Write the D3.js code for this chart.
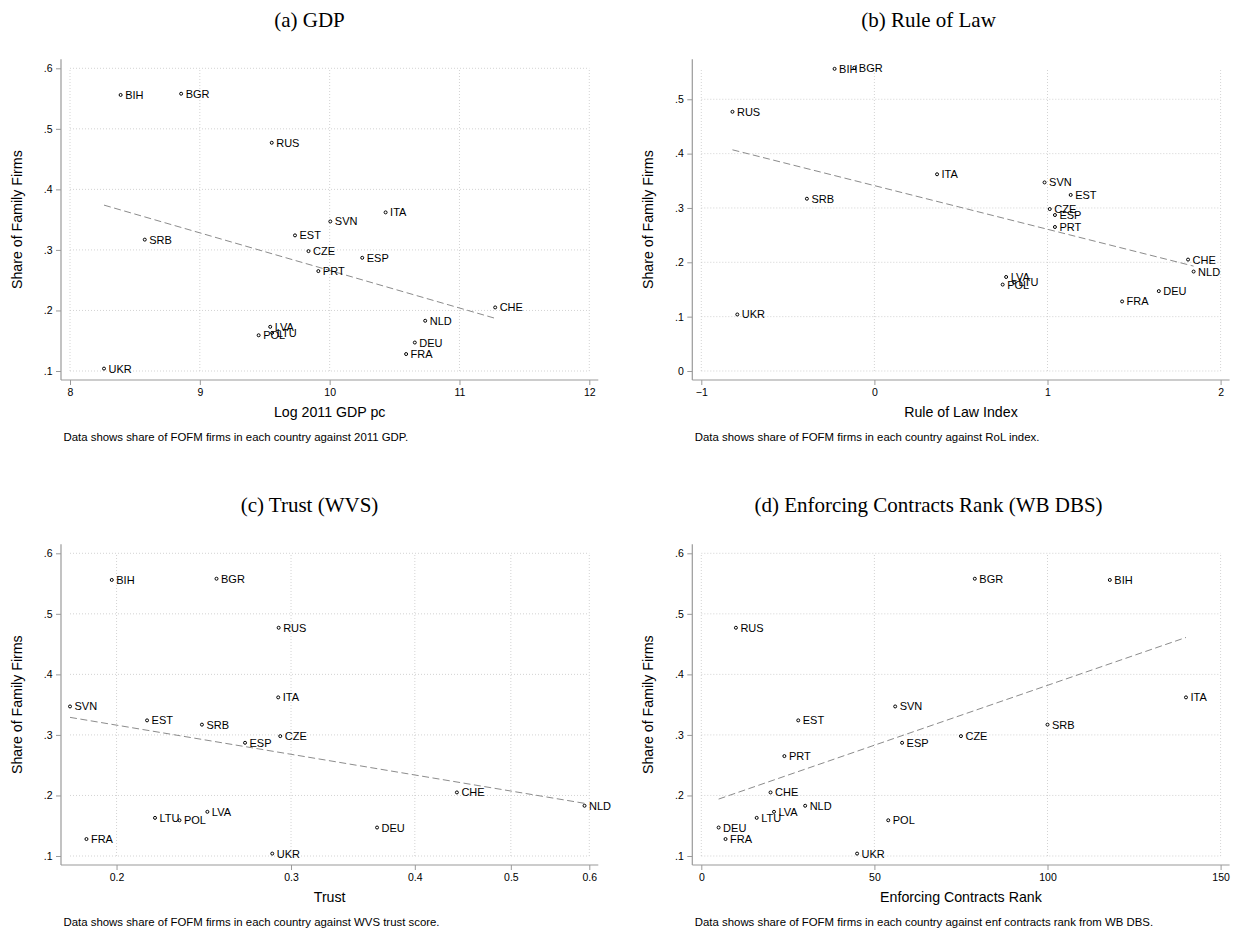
<!DOCTYPE html>
<html><head><meta charset="utf-8">
<script src="https://cdn.jsdelivr.net/npm/d3@7"></script>
<style>body{margin:0;background:#fff}svg{display:block}</style>
</head><body>
<svg id="chart" width="1238" height="935"></svg>
<script>
// ---- data ----
const countries   = ["BIH","BGR","RUS","ITA","SVN","EST","SRB","CZE","ESP","PRT","CHE","NLD","LVA","LTU","POL","DEU","FRA","UKR"];
const familyShare = [0.556,0.558,0.477,0.362,0.347,0.324,0.317,0.298,0.287,0.265,0.205,0.183,0.173,0.163,0.159,0.147,0.128,0.104];
const logGdp      = [8.39,8.856,9.554,10.431,10.005,9.733,8.576,9.837,10.251,9.913,11.275,10.736,9.542,9.557,9.453,10.656,10.589,8.262];
const ruleOfLaw   = [-0.230,-0.116,-0.820,0.362,0.983,1.134,-0.390,1.013,1.043,1.043,1.812,1.844,0.761,0.807,0.741,1.643,1.431,-0.792];
const trust       = [0.1978,0.2523,0.2915,0.2912,0.1795,0.2147,0.2439,0.2926,0.2696,null,0.4411,0.5934,0.2470,0.2187,0.2315,0.3664,0.1865,0.2872];
const enfRank     = [118,79,10,140,56,28,100,75,58,24,20,30,21,16,54,5,7,45];

// fitted lines (endpoints)
const fitGdpX = [8.262, 11.275],  fitGdpY = [0.374, 0.187];
const fitRolX = [-0.820, 1.844],  fitRolY = [0.407, 0.193];
const fitTrustX = [0.1795, 0.5934], fitTrustY = [0.329, 0.187];
const fitEnfX = [5, 140],          fitEnfY = [0.194, 0.461];

// ticks
const yTicks6 = [0.1,0.2,0.3,0.4,0.5,0.6];
const yTicks5 = [0,0.1,0.2,0.3,0.4,0.5];
const yTickLabels6 = [".1",".2",".3",".4",".5",".6"];
const yTickLabels5 = ["0",".1",".2",".3",".4",".5"];
const xTicksGdp = [8,9,10,11,12],        xTickLabelsGdp = ["8","9","10","11","12"];
const xTicksRol = [-1,0,1,2],            xTickLabelsRol = ["\u22121","0","1","2"];
const xTicksTrust = [0.2,0.3,0.4,0.5,0.6], xTickLabelsTrust = ["0.2","0.3","0.4","0.5","0.6"];
const xTicksEnf = [0,50,100,150],        xTickLabelsEnf = ["0","50","100","150"];

const panelTitles = ["(a) GDP","(b) Rule of Law","(c) Trust (WVS)","(d) Enforcing Contracts Rank (WB DBS)"];
const xTitles = ["Log 2011 GDP pc","Rule of Law Index","Trust","Enforcing Contracts Rank"];
const yTitle = "Share of Family Firms";
const notes = [
 "Data shows share of FOFM firms in each country against 2011 GDP.",
 "Data shows share of FOFM firms in each country against RoL index.",
 "Data shows share of FOFM firms in each country against WVS trust score.",
 "Data shows share of FOFM firms in each country against enf contracts rank from WB DBS."
];

// ---- layout ----
const svg = d3.select("#chart");
const SANS = "'Liberation Sans', Arial, Helvetica, sans-serif";
const SERIF = "'Liberation Serif', 'Times New Roman', serif";
const AX = "#9a9a9a", GRID = "#c8c8c8", FIT = "#8c8c8c";
const colL = [61, 692.3], rowT = [59.3, 544.3];
const W = 537.3, H = 320.7, INS = 9;

const panels = [
 {xs: logGdp, xd:[8,12], yd:[0.1,0.6], log:false, xt:xTicksGdp, xl:xTickLabelsGdp, yt:yTicks6, yl:yTickLabels6, fx:fitGdpX, fy:fitGdpY},
 {xs: ruleOfLaw, xd:[-1,2], yd:[0,0.557], log:false, xt:xTicksRol, xl:xTickLabelsRol, yt:yTicks5, yl:yTickLabels5, fx:fitRolX, fy:fitRolY},
 {xs: trust, xd:[0.1795,0.6], yd:[0.1,0.6], log:true, xt:xTicksTrust, xl:xTickLabelsTrust, yt:yTicks6, yl:yTickLabels6, fx:fitTrustX, fy:fitTrustY},
 {xs: enfRank, xd:[0,150], yd:[0.1,0.6], log:false, xt:xTicksEnf, xl:xTickLabelsEnf, yt:yTicks6, yl:yTickLabels6, fx:fitEnfX, fy:fitEnfY}
];

panels.forEach((p, i) => {
  const col = i % 2, row = Math.floor(i / 2);
  const L = colL[col], T = rowT[row], B = T + H, R = L + W;
  const x = (p.log ? d3.scaleLog() : d3.scaleLinear()).domain(p.xd).range([L + INS, R - INS]);
  const y = d3.scaleLinear().domain(p.yd).range([B - INS, T + INS]);
  const g = svg.append("g");

  // panel title
  g.append("text").attr("x", 309.5 + col * 619).attr("y", 26.5 + row * 485)
    .attr("text-anchor", "middle").attr("font-family", SERIF).attr("font-size", 21)
    .attr("fill", "#000").text(panelTitles[i]);

  // grid
  const [x0, x1] = x.range(), [y0, y1] = y.range();
  g.selectAll(".hg").data(p.yt).join("line")
    .attr("x1", x0).attr("x2", x1).attr("y1", d => y(d)).attr("y2", d => y(d))
    .attr("stroke", GRID).attr("stroke-width", 0.8).attr("stroke-dasharray", "1,2");
  g.selectAll(".vg").data(p.xt).join("line")
    .attr("x1", d => x(d)).attr("x2", d => x(d)).attr("y1", y0).attr("y2", y1)
    .attr("stroke", GRID).attr("stroke-width", 0.8).attr("stroke-dasharray", "1,2");

  // axes
  const yAxis = d3.axisLeft(y).tickValues(p.yt).tickFormat((d, k) => p.yl[k]).tickSize(5).tickSizeOuter(0).tickPadding(3.5);
  const xAxis = d3.axisBottom(x).tickValues(p.xt).tickFormat((d, k) => p.xl[k]).tickSize(5).tickSizeOuter(0).tickPadding(3.8);
  const ya = g.append("g").attr("transform", `translate(${L},0)`).call(yAxis);
  const xa = g.append("g").attr("transform", `translate(0,${B})`).call(xAxis);
  [ya, xa].forEach(a => {
    a.select(".domain").remove();
    a.selectAll("line").attr("stroke", AX).attr("stroke-width", 1);
    a.selectAll("text").attr("font-family", SANS).attr("font-size", 10.5).attr("fill", "#000");
  });
  g.append("line").attr("x1", L).attr("x2", L).attr("y1", T).attr("y2", B).attr("stroke", AX).attr("stroke-width", 1.2);
  g.append("line").attr("x1", L).attr("x2", R).attr("y1", B).attr("y2", B).attr("stroke", AX).attr("stroke-width", 1.2);

  // axis titles
  g.append("text").attr("x", (L + R) / 2).attr("y", B + 36.8).attr("text-anchor", "middle")
    .attr("font-family", SANS).attr("font-size", 14.2).attr("fill", "#000").text(xTitles[i]);
  g.append("text").attr("transform", `translate(${L - 39},${(T + B) / 2}) rotate(-90)`)
    .attr("text-anchor", "middle").attr("font-family", SANS).attr("font-size", 14.2)
    .attr("fill", "#000").text(yTitle);
  // note
  g.append("text").attr("x", L + 2.5).attr("y", B + 60.7).attr("font-family", SANS)
    .attr("font-size", 11.4).attr("fill", "#000").text(notes[i]);

  // fit line
  g.append("line").attr("x1", x(p.fx[0])).attr("y1", y(p.fy[0])).attr("x2", x(p.fx[1])).attr("y2", y(p.fy[1]))
    .attr("stroke", FIT).attr("stroke-width", 1).attr("stroke-dasharray", "7,3.5");

  // points
  const pts = countries.map((c, k) => ({c, xv: p.xs[k], yv: familyShare[k]})).filter(d => d.xv != null);
  g.selectAll(".pt").data(pts).join("circle")
    .attr("cx", d => x(d.xv)).attr("cy", d => y(d.yv)).attr("r", 1.5)
    .attr("fill", "#fff").attr("stroke", "#000").attr("stroke-width", 1);
  g.selectAll(".lb").data(pts).join("text")
    .attr("x", d => x(d.xv) + 4.5).attr("y", d => y(d.yv)).attr("dy", "0.36em")
    .attr("font-family", SANS).attr("font-size", 11).attr("fill", "#000").text(d => d.c);
});
</script>
</body></html>
